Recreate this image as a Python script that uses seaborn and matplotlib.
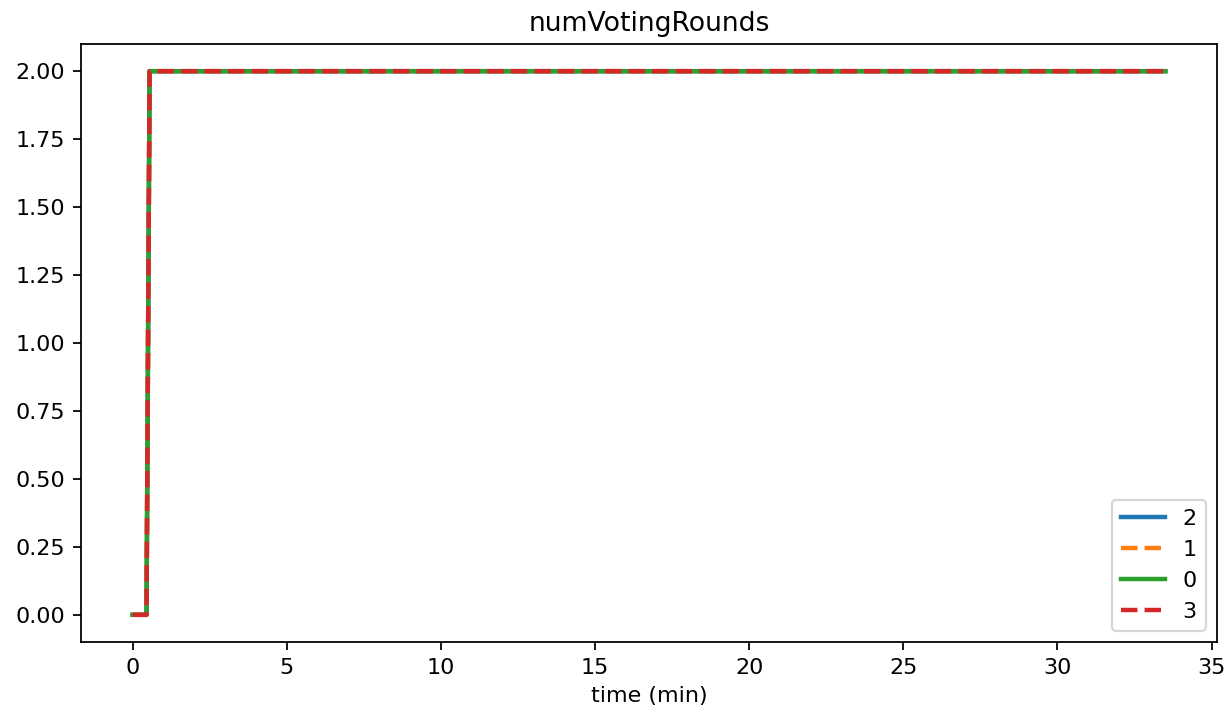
import matplotlib
matplotlib.use("Agg")
import matplotlib.pyplot as plt
import seaborn as sns
import pandas as pd

# Data
nodes = ["2", "1", "0", "3"]
times = [0.0, 0.45, 0.55, 33.5]
values_2 = [0, 0, 2, 2]
values_1 = [0, 0, 2, 2]
values_0 = [0, 0, 2, 2]
values_3 = [0, 0, 2, 2]
series = {"2": values_2, "1": values_1, "0": values_0, "3": values_3}

rows = []
for n in nodes:
    for t, v in zip(times, series[n]):
        rows.append({"time": t, "value": v, "node": n})
df = pd.DataFrame(rows)

colors = {"2": "#1f77b4", "1": "#ff7f0e", "0": "#2ca02c", "3": "#d62728"}
dashes = {"2": "", "1": (3.7, 1.6), "0": "", "3": (3.7, 1.6)}

DPI = 160
fig = plt.figure(figsize=(1229 / DPI, 718 / DPI), dpi=DPI)
ax = fig.add_axes([81 / 1229, 1 - 642 / 718, (1217 - 81) / 1229, (642 - 44) / 718])

sns.lineplot(data=df, x="time", y="value", hue="node", style="node",
             hue_order=nodes, style_order=nodes, palette=colors, dashes=dashes,
             linewidth=2, ax=ax, estimator=None, sort=False)

handles, labels = ax.get_legend_handles_labels()
ax.legend(handles, labels, loc="lower right")
ax.set_title("numVotingRounds")
ax.set_xlabel("time (min)")
ax.set_ylabel("")

fig.savefig("out.png", dpi=DPI)
